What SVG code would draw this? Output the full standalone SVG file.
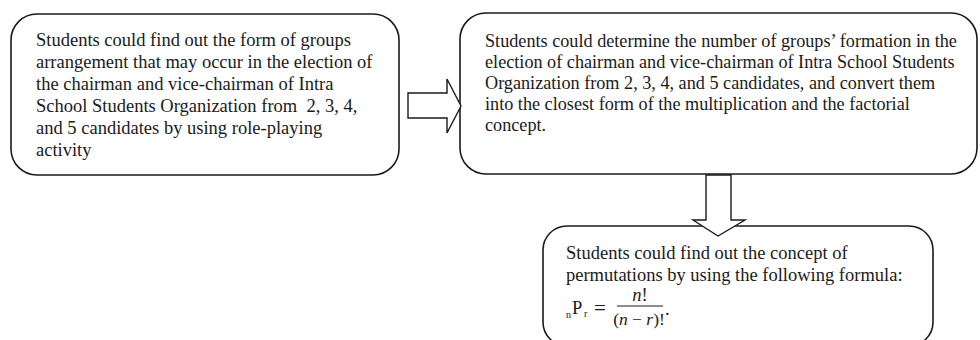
<svg xmlns="http://www.w3.org/2000/svg" width="980" height="340" viewBox="0 0 980 340">
<style>
.box{fill:#ffffff;stroke:#1a1a1a;stroke-width:1.6}
.arr{fill:#ffffff;stroke:#1a1a1a;stroke-width:1.4;stroke-linejoin:miter}
.t{font-family:"Liberation Serif","Times New Roman",serif;font-size:18.5px;fill:#1a1a1a;white-space:pre}
.t2{font-size:18.2px}
.m{font-family:"Liberation Serif","Times New Roman",serif;fill:#1a1a1a}
</style>
<rect width="980" height="340" fill="#ffffff"/>
<g id="node1">
<rect class="box" x="11" y="14" width="388" height="161" rx="26" ry="26"/>
<text class="t" x="36" y="46" xml:space="preserve"><tspan x="36" y="46">Students could find out the form of groups</tspan><tspan x="36" y="68">arrangement that may occur in the election of</tspan><tspan x="36" y="90">the chairman and vice-chairman of Intra</tspan><tspan x="36" y="112">School Students Organization from  2, 3, 4,</tspan><tspan x="36" y="134">and 5 candidates by using role-playing</tspan><tspan x="36" y="156">activity</tspan></text>
</g>
<g id="node2">
<rect class="box" x="460" y="13" width="517" height="161" rx="26" ry="26"/>
<text class="t t2" x="485" y="47"><tspan x="485" y="47">Students could determine the number of groups’ formation in the</tspan><tspan x="485" y="68">election of chairman and vice-chairman of Intra School Students</tspan><tspan x="485" y="89">Organization from 2, 3, 4, and 5 candidates, and convert them</tspan><tspan x="485" y="110">into the closest form of the multiplication and the factorial</tspan><tspan x="485" y="131">concept.</tspan></text>
</g>
<g id="node3">
<rect class="box" x="543" y="226" width="390" height="120" rx="24" ry="24"/>
<text class="t" x="566" y="259"><tspan x="566" y="259">Students could find out the concept of</tspan><tspan x="566" y="281">permutations by using the following formula:</tspan></text>
<g id="formula">
<text class="m" x="566" y="318" font-size="10">n</text>
<text class="m" x="572" y="314" font-size="18.5">P</text>
<text class="m" x="584" y="317" font-size="10">r</text>
<text class="m" x="594" y="315" font-size="21">=</text>
<text class="m" x="640" y="301" font-size="18.5" text-anchor="middle"><tspan font-style="italic">n</tspan>!</text>
<line x1="617" y1="306" x2="663" y2="306" stroke="#1a1a1a" stroke-width="1"/>
<text class="m" x="639" y="325" font-size="17.5" text-anchor="middle">(<tspan font-style="italic">n</tspan> − <tspan font-style="italic">r</tspan>)!</text>
<text class="m" x="665" y="315" font-size="18.5">.</text>
</g>
</g>
<g id="connectors">
<polygon class="arr" points="408,93 447,93 447,79 461,106 447,133 447,118 408,118"/>
<polygon class="arr" points="706,175 731,175 731,220 745,220 718,236 693,220 706,220"/>
</g>
</svg>
